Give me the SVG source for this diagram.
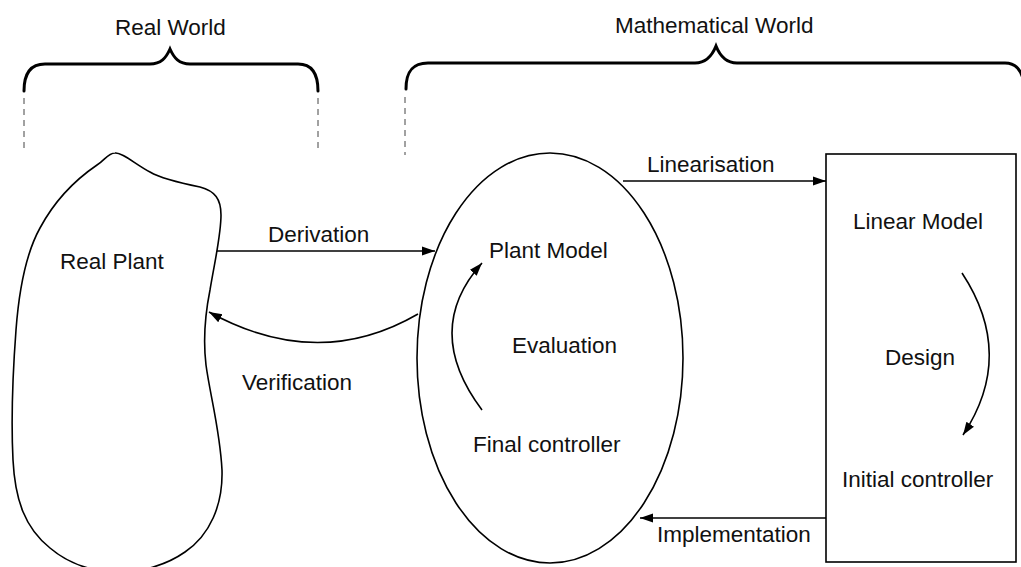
<svg xmlns="http://www.w3.org/2000/svg" width="1021" height="567" viewBox="0 0 1021 567">
  <style>
    text { font-family: "Liberation Sans", Arial, sans-serif; font-size: 22.5px; fill: #111; }
    .outline { fill: #fff; stroke: #000; stroke-width: 1.6; }
    .brace { fill: none; stroke: #000; stroke-width: 3; stroke-linecap: round; }
    .guide { fill: none; stroke: #444; stroke-width: 1; stroke-dasharray: 6 5; }
    .conn { fill: none; stroke: #000; stroke-width: 1.6; }
  </style>
  <defs>
    <marker id="arrow" markerUnits="userSpaceOnUse" markerWidth="14" markerHeight="12" refX="13" refY="6" orient="auto">
      <path d="M0,1.5 L13,6 L0,10.5 Z" fill="#000"/>
    </marker>
  </defs>

  <!-- world braces and guide lines -->
  <g id="real-world">
    <path class="brace" d="M24,91 C24,74 30,64 45,64 L150,64 C161,64 166,58 170,49 C174,58 179,64 190,64 L298,64 C312,64 318,74 318,91"/>
    <line class="guide" x1="24" y1="98" x2="24" y2="150"/>
    <line class="guide" x1="318" y1="98" x2="318" y2="150"/>
    <text x="115" y="35">Real World</text>
  </g>
  <g id="mathematical-world">
    <path class="brace" d="M406,89 C406,72 412,63 428,63 L695,63 C706,63 712,56 716,46 C720,56 726,63 737,63 L1005,63 C1016,63 1021,70 1024,82"/>
    <line class="guide" x1="405" y1="97" x2="405" y2="155"/>
    <text x="615" y="33">Mathematical World</text>
  </g>

  <!-- nodes -->
  <g id="real-plant">
    <path class="outline" d="M115,153 C122,152 135,164 150,172 C162,179 185,184 200,187 C215,191 221,199 221,215 C221,235 215,260 210,290 C205,315 203,340 206,365 C210,395 220,430 222,470 C223,505 210,535 185,552 C165,566 140,572 120,572 C95,572 70,565 50,548 C25,528 15,500 13,460 C11,420 13,370 16,330 C19,290 25,255 40,228 C55,200 75,180 97,165 C105,160 108,153 115,153 Z"/>
    <text x="60" y="269">Real Plant</text>
  </g>
  <g id="plant-model">
    <ellipse class="outline" cx="550" cy="358" rx="133" ry="205"/>
    <text x="489" y="258">Plant Model</text>
    <text x="512" y="353">Evaluation</text>
    <text x="473" y="452">Final controller</text>
  </g>
  <g id="linear-model">
    <rect class="outline" x="826" y="154" width="190" height="408"/>
    <text x="853" y="229">Linear Model</text>
    <text x="885" y="365">Design</text>
    <text x="842" y="487">Initial controller</text>
  </g>

  <!-- connectors -->
  <g id="connectors">
    <line class="conn" x1="217" y1="251" x2="435" y2="251" marker-end="url(#arrow)"/>
    <text x="268" y="242">Derivation</text>
    <path class="conn" d="M418,314 Q318,372 209,312" marker-end="url(#arrow)"/>
    <text x="242" y="390">Verification</text>
    <line class="conn" x1="623" y1="181" x2="826" y2="181" marker-end="url(#arrow)"/>
    <text x="647" y="172">Linearisation</text>
    <line class="conn" x1="826" y1="518" x2="640" y2="518" marker-end="url(#arrow)"/>
    <text x="657" y="542">Implementation</text>
    <path class="conn" d="M482,410 Q422,330 482,263" marker-end="url(#arrow)"/>
    <path class="conn" d="M962,273 Q1016,355 963,435" marker-end="url(#arrow)"/>
  </g>
</svg>
